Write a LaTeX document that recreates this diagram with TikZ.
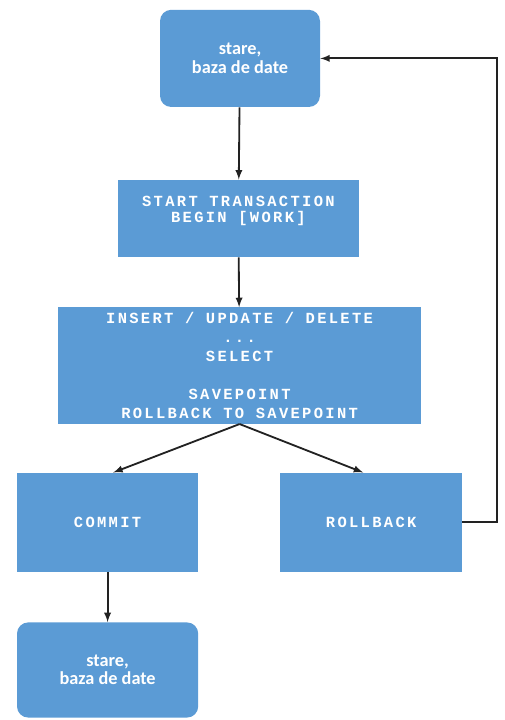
\documentclass[tikz,border=0pt]{standalone}
\usepackage{xcolor}
\usepackage{tikz}
\usepackage{fontspec}
\usetikzlibrary{shapes,arrows,positioning,calc}
\newfontfamily\statefont{Carlito}
\newfontfamily\sqlfont[LetterSpace=15]{Liberation Mono}
\definecolor{boxblue}{HTML}{5B9BD5}
\definecolor{linegray}{HTML}{222222}

\begin{document}
\begin{tikzpicture}[
        statebox/.style={fill=boxblue, rounded corners=8pt, text=white, align=center,
            font=\statefont\bfseries\fontsize{13}{13.2}\selectfont},
        sqlbox/.style={fill=boxblue, text=white, align=center,
            font=\sqlfont\bfseries\fontsize{11}{11.5}\selectfont},
        flow/.style={-latex, line width=1.3pt, linegray}
    ]
        \useasboundingbox (0,0) rectangle (12.6,18);

        % stari ale bazei de date
        \node[statebox, minimum width=4cm, minimum height=2.43cm] (stare1) at (6.0,16.54) {stare,\\baza de date};
        \node[statebox, minimum width=4.53cm, minimum height=2.38cm] (stare2) at (2.69,1.25) {stare,\\baza de date};

        % tranzactia
        \node[sqlbox, minimum width=6.03cm, minimum height=1.93cm, text depth=0.45cm] (start) at (5.96,12.54) {START TRANSACTION\\BEGIN [WORK]};
        \node[sqlbox, minimum width=9.08cm, minimum height=2.88cm, font=\sqlfont\bfseries\fontsize{11}{13.6}\selectfont] (ops) at (5.99,8.86)
            {INSERT / UPDATE / DELETE\\...\\SELECT\\ \\SAVEPOINT\\ROLLBACK TO SAVEPOINT};
        \node[sqlbox, minimum width=4.53cm, minimum height=2.48cm] (commit) at (2.69,4.94) {COMMIT};
        \node[sqlbox, minimum width=4.55cm, minimum height=2.48cm] (rollback) at (9.28,4.94) {ROLLBACK};

        % sageti
        \draw[flow] (stare1) -- (start);
        \draw[flow] (start) -- (ops);
        \draw[flow] (ops.south) -- ($(commit.north)+(0.14,0)$);
        \draw[flow] (ops.south) -- ($(rollback.north)+(-0.2,0)$);
        \draw[flow] (commit) -- (stare2);
        \draw[flow] (rollback.east) -- (12.43,4.94) |- (stare1.east);

    \end{tikzpicture}
\end{document}
